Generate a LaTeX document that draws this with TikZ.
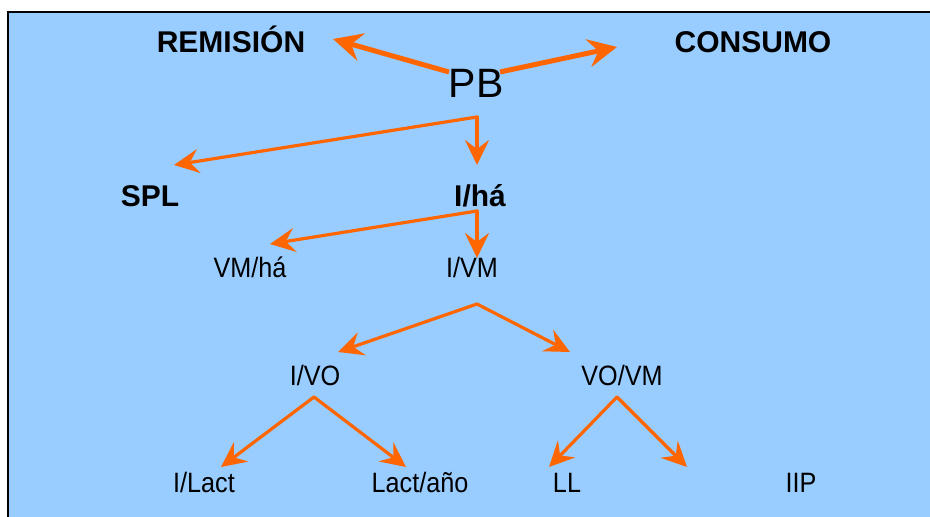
\documentclass[tikz,border=0pt]{standalone}
\usepackage{fontspec}
\setmainfont{Liberation Sans}
\newfontfamily\narrowsf[FakeStretch=0.9]{Liberation Sans}
\usepackage{tikz}
\usetikzlibrary{arrows.meta}
\usepackage{xcolor}
\definecolor{skyback}{RGB}{153,204,255}
\definecolor{orangearr}{RGB}{255,102,0}
\tikzset{
  head/.style={anchor=base, inner sep=0pt, font=\fontsize{30}{36}\selectfont\bfseries},
  var/.style={anchor=base, inner sep=0pt, font=\fontsize{28}{34}\selectfont\narrowsf},
  arr/.style={-{Stealth[length=25pt,width=24pt,inset=9pt]}, line width=3.2pt,
              line cap=round, color=orangearr},
  bigarr/.style={-{Stealth[length=29pt,width=28pt,inset=10pt]}, line width=5pt,
                 color=orangearr},
}

\begin{document}
\begin{tikzpicture}[x=1pt,y=-1pt]
    \useasboundingbox (0,0) rectangle (930,517);
    \begin{scope}
      \clip (0,0) rectangle (930,517);
      \draw[line width=2pt, fill=skyback] (8,12) rectangle (945,530);
    \end{scope}

    % top row
    \node[head] (remision) at (231,52) {REMISIÓN};
    \node[head] (consumo) at (753,52) {CONSUMO};
    \node[anchor=base, inner sep=0pt, font=\fontsize{41}{48}\selectfont] (pb) at (476,97) {PB};

    % second and third rows
    \node[head] (spl) at (150,206) {SPL};
    \node[head] (iha) at (480,206) {I/há};
    \node[var] (vmha) at (250,277) {VM/há};
    \node[var] (ivm) at (472,277) {I/VM};

    % lower rows
    \node[var] (ivo) at (315,385) {I/VO};
    \node[var] (vovm) at (622,385) {VO/VM};
    \node[var] (ilact) at (204,492) {I/Lact};
    \node[var] (lactano) at (420,492) {Lact/año};
    \node[var] (ll) at (567,492) {LL};
    \node[var] (iip) at (801,492) {IIP};

    % branch points and arrow ends
    \coordinate (pbL) at (449,72);   \coordinate (pbR) at (500,72);
    \coordinate (toRem) at (333,39); \coordinate (toCons) at (617,47);
    \coordinate (fork1) at (477,117);
    \coordinate (toSpl) at (174,165); \coordinate (toIha) at (477,165);
    \coordinate (fork2) at (477,211);
    \coordinate (toVmha) at (270,244); \coordinate (toIvm) at (477,258);
    \coordinate (fork3) at (477,304);
    \coordinate (toIvo) at (338,352); \coordinate (toVovm) at (570,352);
    \coordinate (fork4) at (314,397);
    \coordinate (toIlact) at (221,467); \coordinate (toLact) at (406,467);
    \coordinate (fork5) at (617,397);
    \coordinate (toLl) at (549,467); \coordinate (toEmpty) at (687,467);

    \draw[bigarr] (pbL)--(toRem); \draw[bigarr] (pbR)--(toCons);
    \draw[arr] (fork1)--(toSpl); \draw[arr] (fork1)--(toIha);
    \draw[arr] (fork2)--(toVmha); \draw[arr] (fork2)--(toIvm);
    \draw[arr] (fork3)--(toIvo); \draw[arr] (fork3)--(toVovm);
    \draw[arr] (fork4)--(toIlact); \draw[arr] (fork4)--(toLact);
    \draw[arr] (fork5)--(toLl); \draw[arr] (fork5)--(toEmpty);
\end{tikzpicture}
\end{document}
